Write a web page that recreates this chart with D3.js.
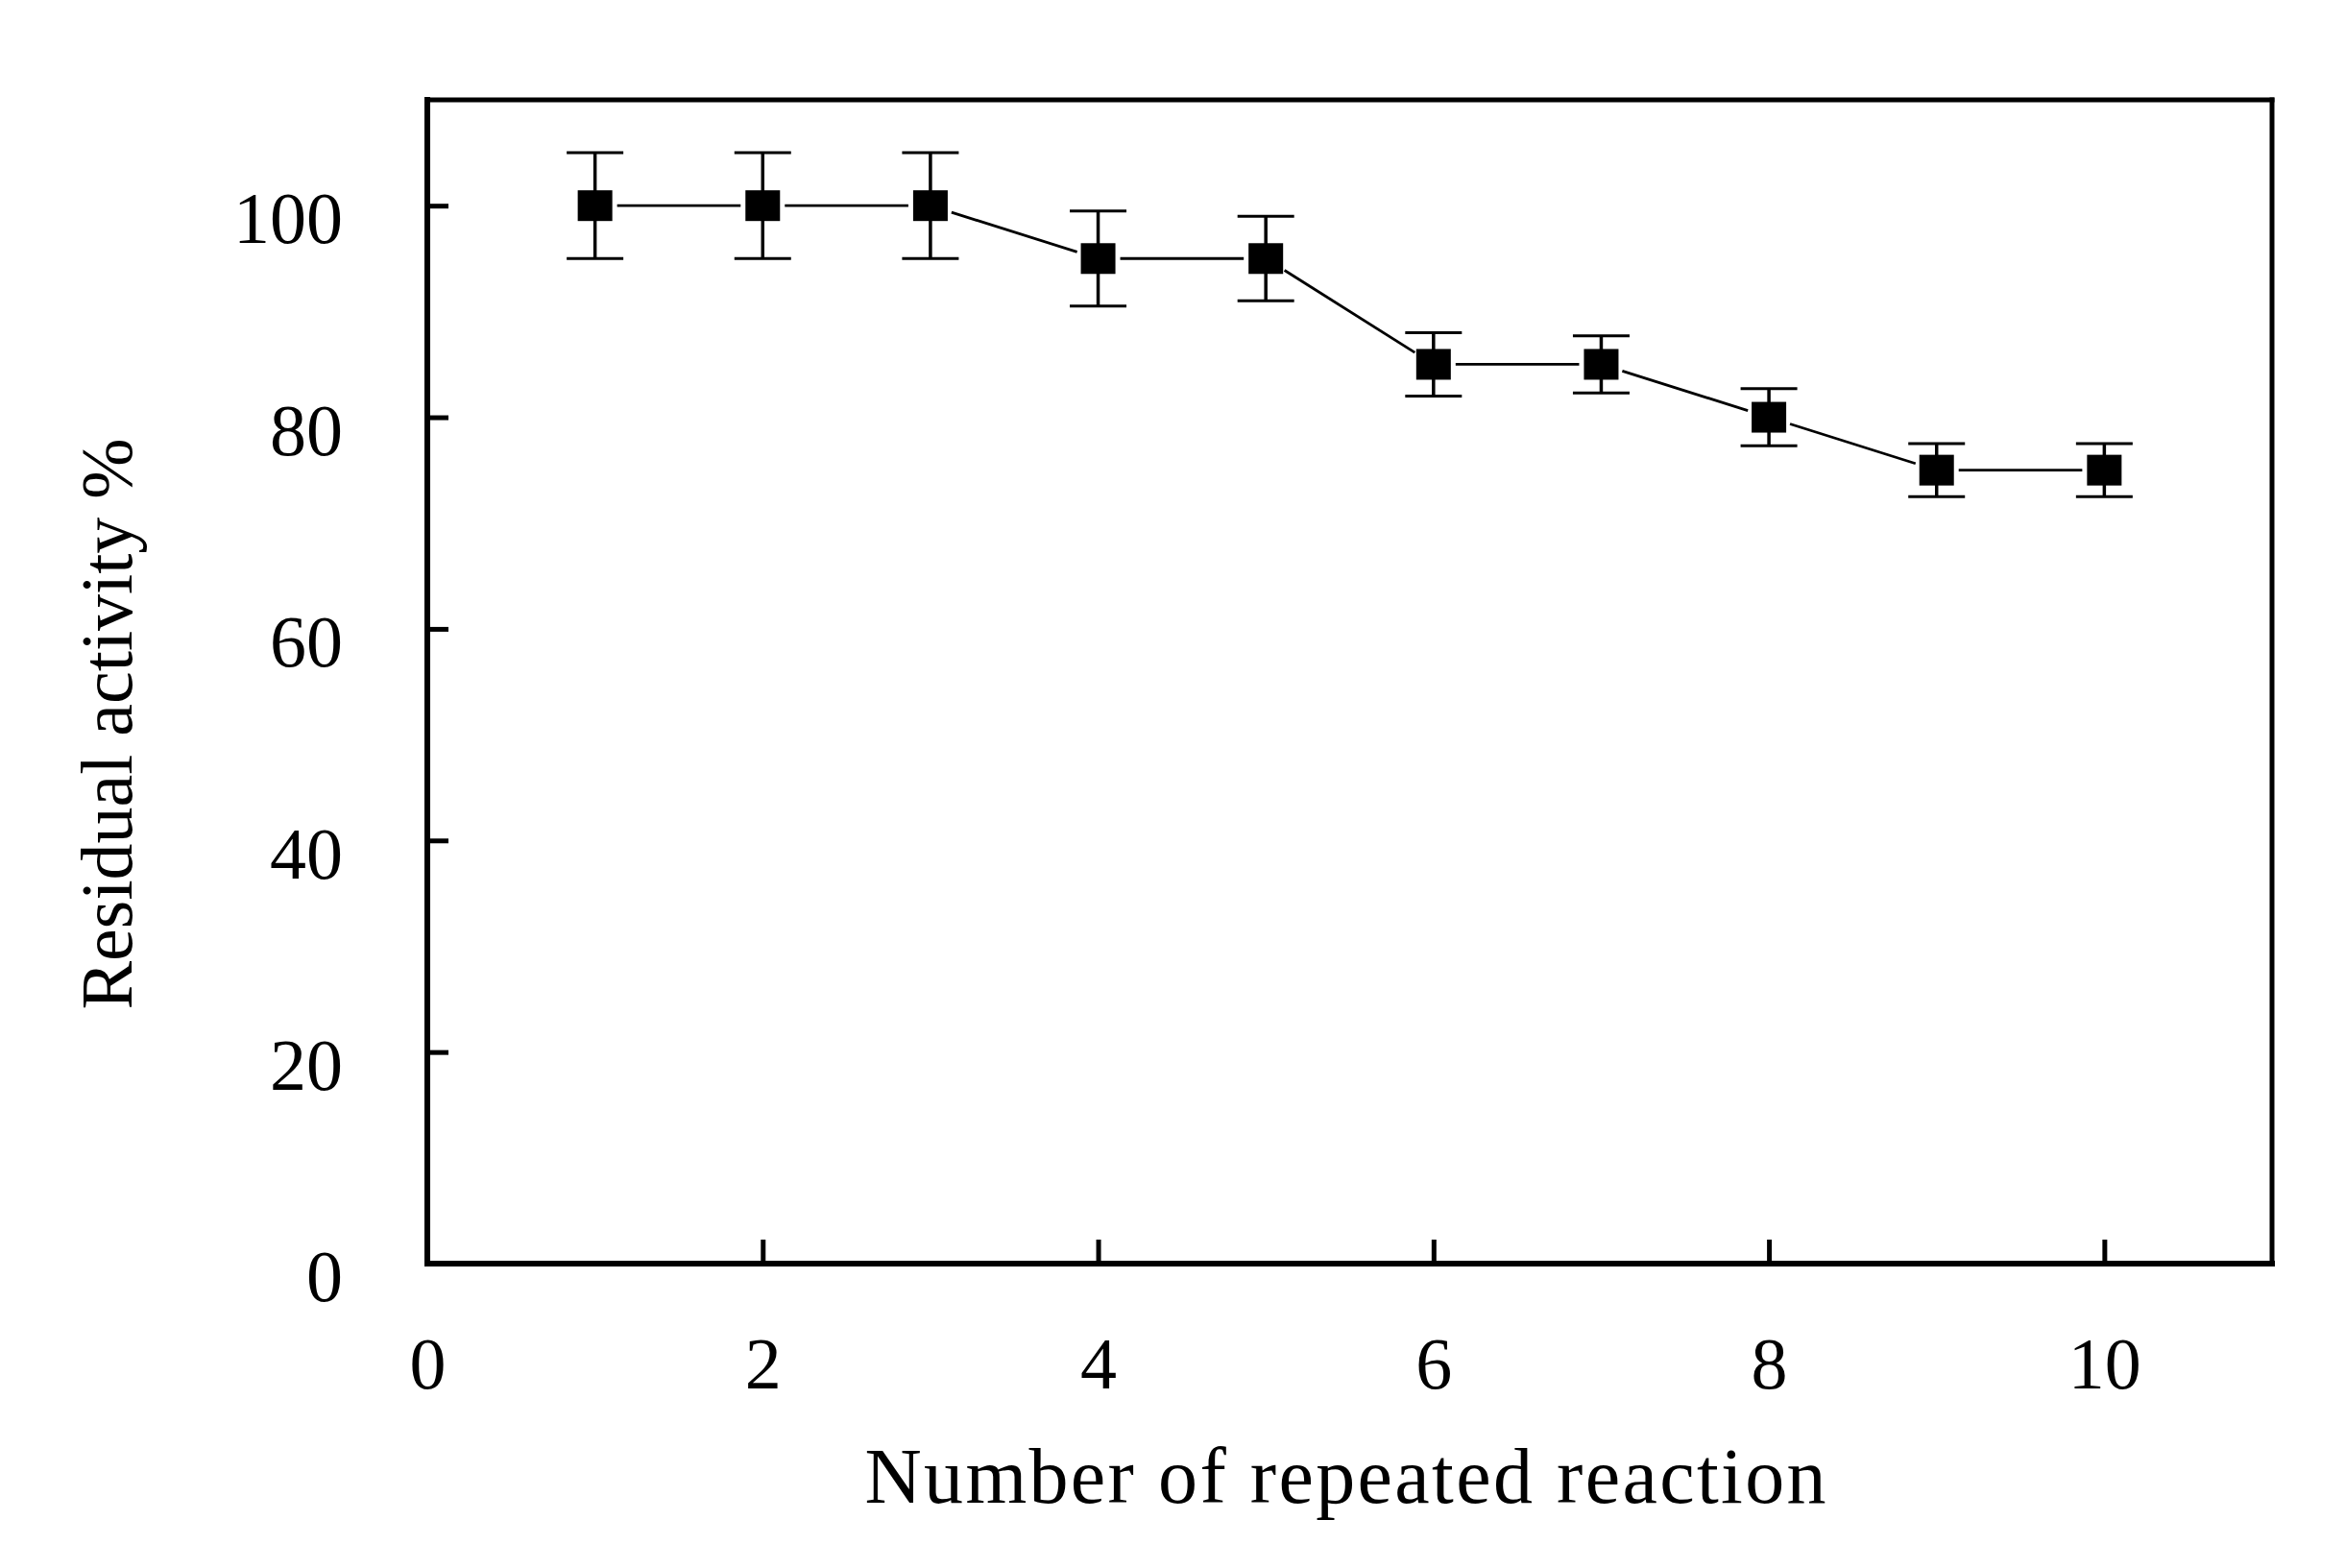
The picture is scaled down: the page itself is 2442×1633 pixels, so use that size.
<!DOCTYPE html>
<html>
<head>
<meta charset="utf-8">
<script src="https://cdn.jsdelivr.net/npm/d3@7"></script>
<style>
  html, body { margin: 0; padding: 0; background: #fff; }
  svg { display: block; }
  text { font-family: "Liberation Serif", "Times New Roman", serif; fill: #000; }
</style>
</head>
<body>
<script>
// ---- Data ----
const cycles   = [1, 2, 3, 4, 5, 6, 7, 8, 9, 10];
const activity = [100, 100, 100, 95, 95, 85, 85, 80, 75, 75];
const errors   = [5, 5, 5, 4.5, 4, 3, 2.7, 2.7, 2.5, 2.5];
const xTicks   = [0, 2, 4, 6, 8, 10];
const yTicks   = [0, 20, 40, 60, 80, 100];
const xLabel   = "Number of repeated reaction";
const yLabel   = "Residual activity %";

// ---- Layout ----
const W = 2442, H = 1633;
const mLeft = 445, mRight = 2366, mTop = 104, mBottom = 1316;

const svg = d3.select("body").append("svg").attr("width", W).attr("height", H);

const x = d3.scaleLinear().domain([0, 11]).range([mLeft, mRight]);
const y = d3.scaleLinear().domain([0, 110]).range([mBottom, mTop]);

// ---- Axes ----
const xAxis = svg.append("g")
  .attr("transform", `translate(0,${mBottom})`)
  .call(d3.axisBottom(x).tickValues(xTicks).tickSize(-25).tickSizeOuter(0).tickFormat(d3.format("d")));
xAxis.select(".domain").remove();
xAxis.selectAll(".tick line").attr("stroke", "#000").attr("stroke-width", 5);
xAxis.selectAll(".tick text")
  .attr("y", 130).attr("dy", 0)
  .style("font-size", "76px")
  .style("font-family", '"Liberation Serif", serif');

const yAxis = svg.append("g")
  .attr("transform", `translate(${mLeft},0)`)
  .call(d3.axisLeft(y).tickValues(yTicks).tickSize(-22).tickSizeOuter(0).tickFormat(d3.format("d")));
yAxis.select(".domain").remove();
yAxis.selectAll(".tick line").attr("stroke", "#000").attr("stroke-width", 5);
yAxis.selectAll(".tick text")
  .attr("x", -88).attr("dy", "0.51em")
  .style("font-size", "76px")
  .style("font-family", '"Liberation Serif", serif');

// ---- Frame ----
const frame = svg.append("g").attr("stroke", "#000").attr("fill", "none").attr("stroke-linecap", "square");
frame.append("line").attr("x1", x(0)).attr("x2", x(11)).attr("y1", y(0)).attr("y2", y(0)).attr("stroke-width", 6);
frame.append("line").attr("x1", x(0)).attr("x2", x(0)).attr("y1", y(0)).attr("y2", y(110)).attr("stroke-width", 6);
frame.append("line").attr("x1", x(0)).attr("x2", x(11)).attr("y1", y(110)).attr("y2", y(110)).attr("stroke-width", 5);
frame.append("line").attr("x1", x(11)).attr("x2", x(11)).attr("y1", y(110)).attr("y2", y(0)).attr("stroke-width", 5);

// ---- Marks ----
const pts = cycles.map((c, i) => ({ c, v: activity[i], e: errors[i] }));

// connecting segments with gaps near markers
const gap = 23;
const segs = d3.pairs(pts).map(([a, b]) => {
  const x1 = x(a.c), y1 = y(a.v), x2 = x(b.c), y2 = y(b.v);
  const dx = x2 - x1, dy = y2 - y1, L = Math.hypot(dx, dy);
  return { x1: x1 + dx / L * gap, y1: y1 + dy / L * gap, x2: x2 - dx / L * gap, y2: y2 - dy / L * gap };
});
svg.append("g").selectAll("line").data(segs).join("line")
  .attr("x1", d => d.x1).attr("y1", d => d.y1)
  .attr("x2", d => d.x2).attr("y2", d => d.y2)
  .attr("stroke", "#000").attr("stroke-width", 2.8);

// error bars
const eb = svg.append("g").attr("stroke", "#000");
eb.selectAll("line.stem").data(pts).join("line").attr("class", "stem")
  .attr("x1", d => x(d.c)).attr("x2", d => x(d.c))
  .attr("y1", d => y(d.v + d.e)).attr("y2", d => y(d.v - d.e))
  .attr("stroke-width", 3.5);
eb.selectAll("line.capTop").data(pts).join("line").attr("class", "capTop")
  .attr("x1", d => x(d.c) - 29.5).attr("x2", d => x(d.c) + 29.5)
  .attr("y1", d => y(d.v + d.e)).attr("y2", d => y(d.v + d.e))
  .attr("stroke-width", 3);
eb.selectAll("line.capBot").data(pts).join("line").attr("class", "capBot")
  .attr("x1", d => x(d.c) - 29.5).attr("x2", d => x(d.c) + 29.5)
  .attr("y1", d => y(d.v - d.e)).attr("y2", d => y(d.v - d.e))
  .attr("stroke-width", 3);

// markers
const mw = 36, mh = 32;
svg.append("g").selectAll("rect").data(pts).join("rect")
  .attr("x", d => x(d.c) - mw / 2).attr("y", d => y(d.v) - mh / 2)
  .attr("width", mw).attr("height", mh).attr("fill", "#000");

// ---- Axis titles ----
svg.append("text")
  .attr("x", 1401).attr("y", 1565)
  .attr("text-anchor", "middle")
  .attr("textLength", 1001).attr("lengthAdjust", "spacing")
  .style("font-size", "82px")
  .text(xLabel);

svg.append("text")
  .attr("transform", `translate(137,754) rotate(-90)`)
  .attr("text-anchor", "middle")
  .style("font-size", "76px")
  .text(yLabel);
</script>
</body>
</html>
